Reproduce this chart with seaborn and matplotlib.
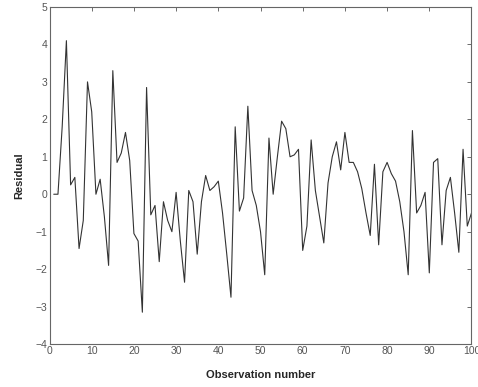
import numpy as np
import pandas as pd
import matplotlib
matplotlib.use("Agg")
import matplotlib.pyplot as plt
import seaborn as sns

# residuals, one per observation (1..100)
observation = np.arange(1, 101)
residual = [
    0.0, 0.0, 1.8, 4.1, 0.25, 0.45, -1.45, -0.7, 3.0, 2.2,
    0.0, 0.4, -0.6, -1.9, 3.3, 0.85, 1.1, 1.65, 0.9, -1.05,
    -1.25, -3.15, 2.85, -0.55, -0.3, -1.8, -0.2, -0.7, -1.0, 0.05,
    -1.25, -2.35, 0.1, -0.2, -1.6, -0.2, 0.5, 0.1, 0.2, 0.35,
    -0.5, -1.6, -2.75, 1.8, -0.45, -0.1, 2.35, 0.1, -0.3, -1.0,
    -2.15, 1.5, 0.0, 1.0, 1.95, 1.75, 1.0, 1.05, 1.2, -1.5,
    -0.85, 1.45, 0.1, -0.6, -1.3, 0.3, 1.0, 1.4, 0.65, 1.65,
    0.85, 0.85, 0.6, 0.15, -0.5, -1.1, 0.8, -1.35, 0.6, 0.85,
    0.55, 0.35, -0.2, -1.0, -2.15, 1.7, -0.5, -0.3, 0.05, -2.1,
    0.85, 0.95, -1.35, 0.1, 0.45, -0.5, -1.55, 1.2, -0.85, -0.5,
]
x_ticks = list(range(0, 101, 10))
y_ticks = list(range(-4, 6))

df = pd.DataFrame({"obs": observation, "res": residual})

sns.set_style("white")
plt.rcParams["font.family"] = ["Liberation Sans", "DejaVu Sans"]

fig = plt.figure(figsize=(4.78, 3.87), dpi=100)
ax = fig.add_axes([0.1036, 0.111, 0.8828, 0.871])

sns.lineplot(data=df, x="obs", y="res", ax=ax, color="#333333", linewidth=0.8)

ax.set_xlim(0, 100)
ax.set_ylim(-4, 5)
ax.set_xticks(x_ticks)
ax.set_yticks(y_ticks)
ax.tick_params(direction="in", top=True, right=True, length=3, width=0.6,
               labelsize=7.5, labelcolor="#555555", color="#555555", pad=1.5)
for s in ax.spines.values():
    s.set_visible(True)
    s.set_color("#666666")
    s.set_linewidth(0.8)

ax.set_xlabel("Observation number", fontsize=8, fontweight="bold", labelpad=10)
ax.set_ylabel("Residual", fontsize=8, fontweight="bold", labelpad=8)

fig.savefig("out.png", dpi=100)
